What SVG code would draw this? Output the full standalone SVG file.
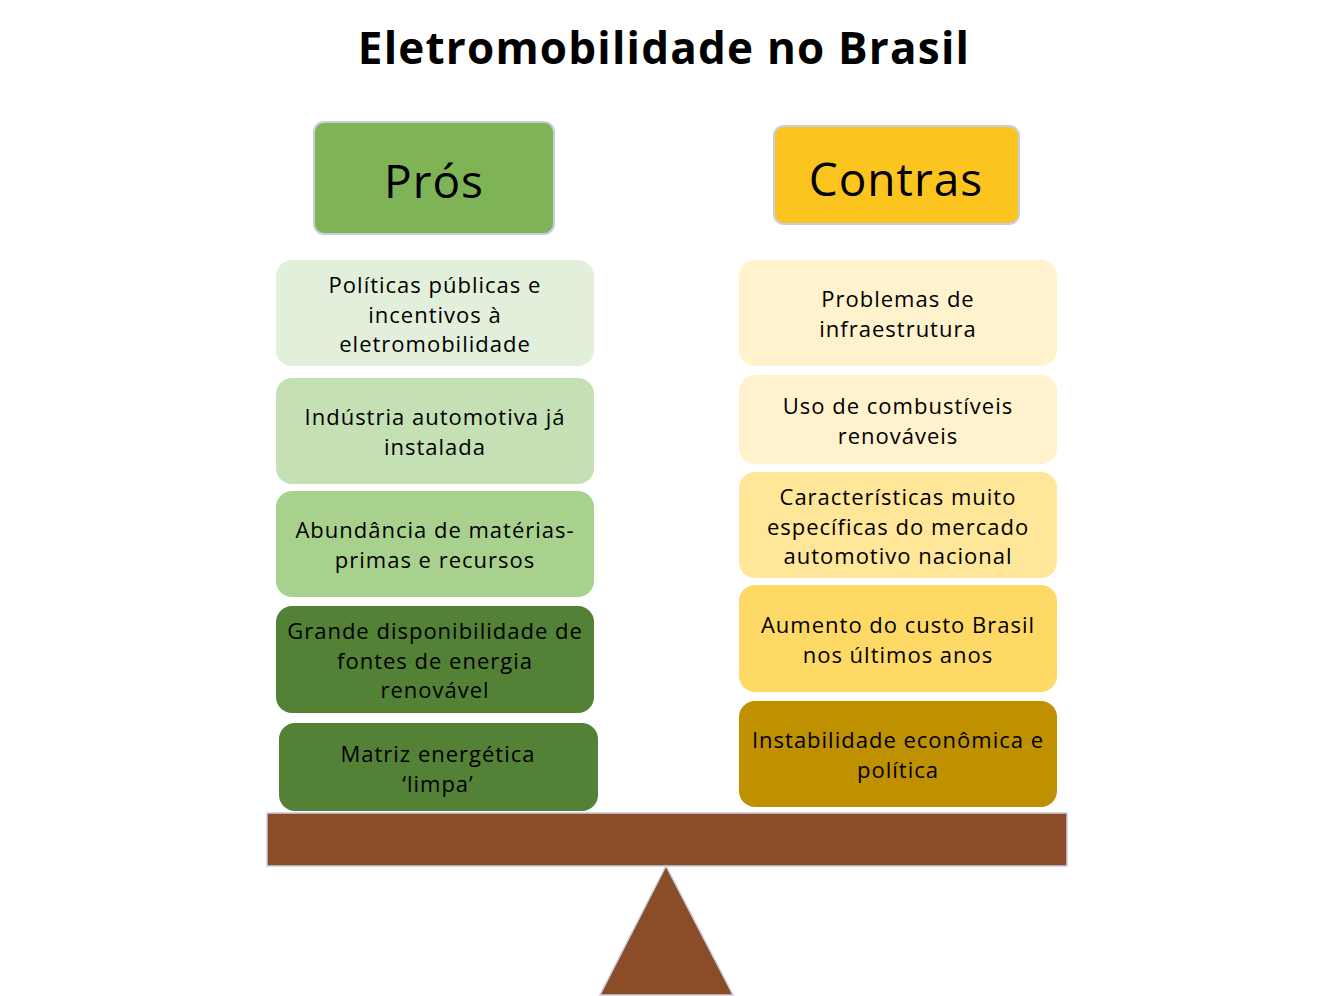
<svg xmlns="http://www.w3.org/2000/svg" width="1333" height="996" viewBox="0 0 1333 996">
<style>
.t{font-family:"Open Sans","DejaVu Sans",sans-serif;font-size:22px;fill:#000;text-anchor:middle;letter-spacing:1px}
.h{font-family:"Open Sans","DejaVu Sans",sans-serif;font-size:46px;fill:#000;text-anchor:middle;letter-spacing:1px}
.hd{stroke:#c9cde0;stroke-width:2}
</style>
<rect width="1333" height="996" fill="#fff"/>
<text x="664" y="64" font-family="'Open Sans','DejaVu Sans',sans-serif" font-size="44" font-weight="bold" text-anchor="middle" letter-spacing="1.2">Eletromobilidade no Brasil</text>
<g id="pros-header"><rect class="hd" x="314" y="122" width="240" height="112" rx="10" fill="#7EB356"/><text class="h" x="434" y="198">Prós</text></g>
<g id="contras-header"><rect class="hd" x="774" y="126" width="245" height="98" rx="10" fill="#FCC41F"/><text class="h" x="896" y="196">Contras</text></g>
<g id="p1"><rect x="276" y="260" width="318" height="106" rx="16" fill="#E2EFDA"/><text class="t"><tspan x="435" y="293">Políticas públicas e</tspan><tspan x="435" y="323">incentivos à</tspan><tspan x="435" y="352">eletromobilidade</tspan></text></g>
<g id="p2"><rect x="276" y="378" width="318" height="106" rx="16" fill="#C5E0B4"/><text class="t"><tspan x="435" y="425">Indústria automotiva já</tspan><tspan x="435" y="455">instalada</tspan></text></g>
<g id="p3"><rect x="276" y="491" width="318" height="106" rx="16" fill="#A9D18E"/><text class="t"><tspan x="435" y="538">Abundância de matérias-</tspan><tspan x="435" y="568">primas e recursos</tspan></text></g>
<g id="p4"><rect x="276" y="606" width="318" height="107" rx="16" fill="#538135"/><text class="t"><tspan x="435" y="639">Grande disponibilidade de</tspan><tspan x="435" y="669">fontes de energia</tspan><tspan x="435" y="698">renovável</tspan></text></g>
<g id="p5"><rect x="279" y="723" width="319" height="88" rx="16" fill="#538135"/><text class="t"><tspan x="438" y="762">Matriz energética</tspan><tspan x="438" y="792">‘limpa’</tspan></text></g>
<g id="c1"><rect x="739" y="260" width="318" height="106" rx="16" fill="#FFF2CC"/><text class="t"><tspan x="898" y="307">Problemas de</tspan><tspan x="898" y="337">infraestrutura</tspan></text></g>
<g id="c2"><rect x="739" y="375" width="318" height="89" rx="16" fill="#FFF2CC"/><text class="t"><tspan x="898" y="414">Uso de combustíveis</tspan><tspan x="898" y="444">renováveis</tspan></text></g>
<g id="c3"><rect x="739" y="472" width="318" height="106" rx="16" fill="#FFE699"/><text class="t"><tspan x="898" y="505">Características muito</tspan><tspan x="898" y="535">específicas do mercado</tspan><tspan x="898" y="564">automotivo nacional</tspan></text></g>
<g id="c4"><rect x="739" y="585" width="318" height="107" rx="16" fill="#FFD966"/><text class="t"><tspan x="898" y="633">Aumento do custo Brasil</tspan><tspan x="898" y="663">nos últimos anos</tspan></text></g>
<g id="c5"><rect x="739" y="701" width="318" height="106" rx="16" fill="#BF9000"/><text class="t"><tspan x="898" y="748">Instabilidade econômica e</tspan><tspan x="898" y="778">política</tspan></text></g>
<g id="connectors"></g>
<g id="plank"><rect x="267" y="813" width="800" height="53" fill="#8B4C28" stroke="#c9cde0" stroke-width="1.5"/></g>
<g id="fulcrum"><polygon points="666,866 600,995 733,995" fill="#8B4C28" stroke="#c9cde0" stroke-width="1.5"/></g>
</svg>
